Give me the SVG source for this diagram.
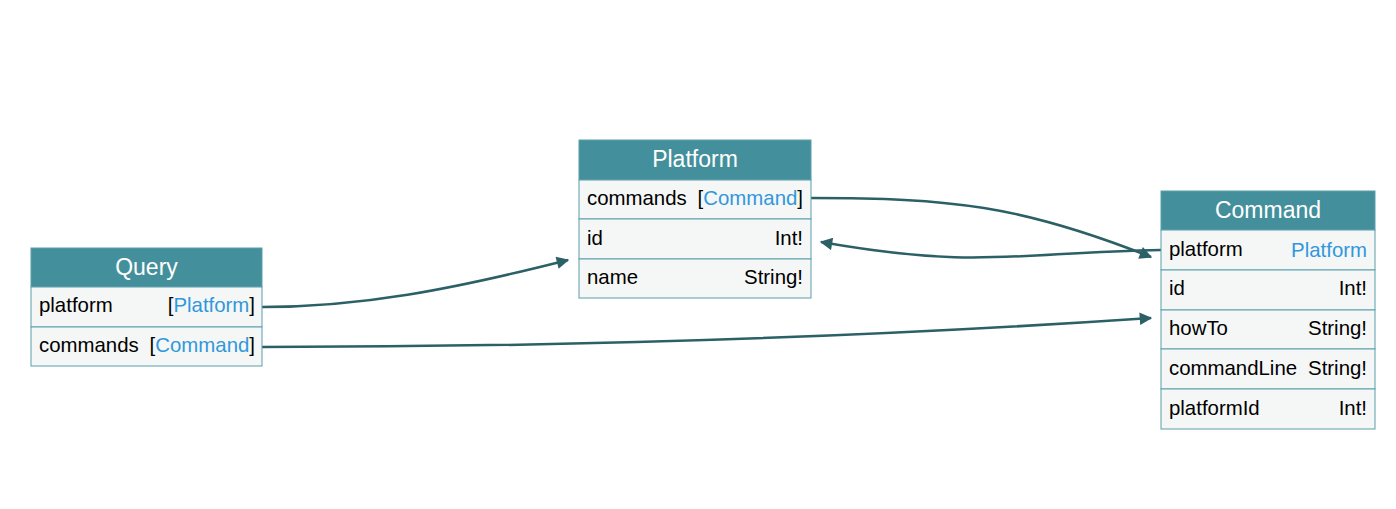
<svg xmlns="http://www.w3.org/2000/svg" width="1396" height="509" viewBox="0 0 1396 509">
<style>
.hd{fill:#43909c;stroke:#5a9fab;stroke-width:1}
.row{fill:#f5f7f6;stroke:#5a9fab;stroke-width:1}
.t{font-family:"Liberation Sans",Arial,sans-serif;font-size:20.4px;fill:#000}
.h{font-family:"Liberation Sans",Arial,sans-serif;font-size:23px;fill:#fff;text-anchor:middle}
.r{text-anchor:end}
.b{fill:#3197dc}
.e{fill:none;stroke:#2b6067;stroke-width:2.5}
</style>
<defs>
<marker id="ah" viewBox="0 0 10 10" refX="9" refY="5" markerWidth="6" markerHeight="5" orient="auto" markerUnits="strokeWidth">
<path d="M0,0 L10,5 L0,10 z" fill="#2b6067"/>
</marker>
</defs>
<rect width="1396" height="509" fill="#fff"/>
<g id="connectors">
<path class="e" d="M262,307 C360,307 450,290 568,260" marker-end="url(#ah)"/>
<path class="e" d="M262,347 C600,347 900,335 1151,318" marker-end="url(#ah)"/>
<path class="e" d="M811,198 C950,198 1020,205 1151,257" marker-end="url(#ah)"/>
<path class="e" d="M1161,250 C1020,252 980,270 821,242" marker-end="url(#ah)"/>
</g>
<g id="Query">
<rect class="hd" x="31" y="248" width="231" height="39"/>
<text class="h" x="146.5" y="275">Query</text>
<rect class="row" x="31" y="287" width="231" height="40"/>
<text class="t" x="39" y="312">platform</text>
<text class="t r" x="255" y="312">[<tspan class="b">Platform</tspan>]</text>
<rect class="row" x="31" y="327" width="231" height="39"/>
<text class="t" x="39" y="352">commands</text>
<text class="t r" x="255" y="352">[<tspan class="b">Command</tspan>]</text>
</g>
<g id="Platform">
<rect class="hd" x="579" y="140" width="232" height="40"/>
<text class="h" x="695" y="167">Platform</text>
<rect class="row" x="579" y="180" width="232" height="39"/>
<text class="t" x="587" y="205">commands</text>
<text class="t r" x="803" y="205">[<tspan class="b">Command</tspan>]</text>
<rect class="row" x="579" y="219" width="232" height="40"/>
<text class="t" x="587" y="245">id</text>
<text class="t r" x="803" y="245">Int!</text>
<rect class="row" x="579" y="259" width="232" height="39"/>
<text class="t" x="587" y="284">name</text>
<text class="t r" x="803" y="284">String!</text>
</g>
<g id="Command">
<rect class="hd" x="1161" y="191" width="214" height="39"/>
<text class="h" x="1268" y="218">Command</text>
<rect class="row" x="1161" y="230" width="214" height="40"/>
<text class="t" x="1169" y="256">platform</text>
<text class="t r b" x="1367" y="257">Platform</text>
<rect class="row" x="1161" y="270" width="214" height="40"/>
<text class="t" x="1169" y="295">id</text>
<text class="t r" x="1367" y="295">Int!</text>
<rect class="row" x="1161" y="310" width="214" height="39"/>
<text class="t" x="1169" y="335">howTo</text>
<text class="t r" x="1367" y="335">String!</text>
<rect class="row" x="1161" y="349" width="214" height="40"/>
<text class="t" x="1169" y="375">commandLine</text>
<text class="t r" x="1367" y="375">String!</text>
<rect class="row" x="1161" y="389" width="214" height="40"/>
<text class="t" x="1169" y="415">platformId</text>
<text class="t r" x="1367" y="415">Int!</text>
</g>
</svg>
